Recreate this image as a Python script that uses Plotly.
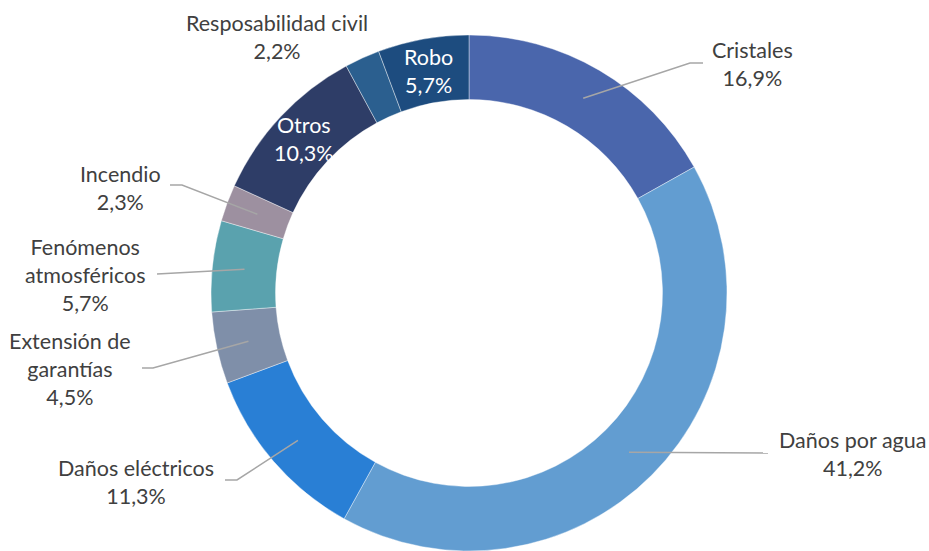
import math
import plotly.graph_objects as go

# ---- data ----
categories = ["Cristales", "Daños por agua", "Daños eléctricos", "Extensión de<br>garantías",
              "Fenómenos<br>atmosféricos", "Incendio", "Otros", "Resposabilidad civil", "Robo"]
shares = [16.9, 41.2, 11.3, 4.5, 5.7, 2.3, 10.3, 2.2, 5.7]
colors = ["#4A66AC", "#629DD1", "#297FD5", "#7F8FA9", "#5AA2AE",
          "#9D90A0", "#2E3D67", "#2B5F8F", "#1D4C7F"]

# ---- layout / style ----
W, H = 929, 551
CX, CY, R = 469, 293, 258
HOLE = 0.75
TEXT_COLOR = "#404040"
FONT = "Lato"
FSIZE = 21.5
LINE_COLOR = "#A6A6A6"

# label placement (pixels): (text center x, text center y, elbow x, elbow y, end x) ; "inside" = in ring
label_layout = [
    (752, 64, 690, 63, 703),
    (852, 454, None, 453, 768),
    (136, 482, 237, 480, 225),
    (70, 369, 153, 368, 142),
    (85, 275, None, 274, 157),
    (120, 188, 182, 185, 170),
    "inside",
    (277, 37, None, None, None),
    "inside",
]

fig = go.Figure()
fig.add_trace(go.Pie(
    labels=categories, values=shares, sort=False, direction="clockwise", rotation=0,
    hole=HOLE, marker=dict(colors=colors, line=dict(color="white", width=0.4)),
    textinfo="none", hoverinfo="label+percent", showlegend=False,
    domain=dict(x=[(CX - R) / W, (CX + R) / W], y=[1 - (CY + R) / H, 1 - (CY - R) / H]),
))

total = sum(shares)
cum = 0.0
r_mid = R * (1 + HOLE) / 2
anchors_x, anchors_y = [], []
annotations, shapes = [], []
for cat, v, lay in zip(categories, shares, label_layout):
    mid = (cum + v / 2) / total * 2 * math.pi
    cum += v
    ax = CX + r_mid * math.sin(mid)
    ay = CY - r_mid * math.cos(mid)
    anchors_x.append(ax)
    anchors_y.append(ay)
    pct = f"{v:.1f}".replace(".", ",") + "%"
    text = f"{cat}<br>{pct}"
    if lay == "inside":
        annotations.append(dict(x=ax, y=ay, xref="x", yref="y", text=text, showarrow=False,
                                font=dict(family=FONT, size=FSIZE, color="white"), align="center"))
        continue
    tx, ty, ex, ey, endx = lay
    annotations.append(dict(x=tx, y=ty, xref="x", yref="y", text=text, showarrow=False,
                            font=dict(family=FONT, size=FSIZE, color=TEXT_COLOR), align="center"))
    if endx is not None:
        if ex is None:
            path = f"M{ax},{ay} L{endx},{ey}"
        else:
            path = f"M{ax},{ay} L{ex},{ey} L{endx},{ey}"
        shapes.append(dict(type="path", xref="x", yref="y", path=path, layer="above",
                           line=dict(color=LINE_COLOR, width=1.5)))

# invisible anchor points on a pixel-scaled cartesian overlay
fig.add_trace(go.Scatter(x=anchors_x, y=anchors_y, mode="markers", marker=dict(opacity=0),
                         hoverinfo="skip", showlegend=False))

fig.update_layout(
    width=W, height=H, margin=dict(l=0, r=0, t=0, b=0),
    paper_bgcolor="white", plot_bgcolor="rgba(0,0,0,0)",
    xaxis=dict(range=[0, W], visible=False, fixedrange=True, domain=[0, 1]),
    yaxis=dict(range=[H, 0], visible=False, fixedrange=True, domain=[0, 1]),
    annotations=annotations, shapes=shapes,
    font=dict(family=FONT, color=TEXT_COLOR),
)

fig.write_html("out.html", config={"displayModeBar": False},
               post_script="document.body.style.margin='0';document.body.style.overflow='hidden';")
